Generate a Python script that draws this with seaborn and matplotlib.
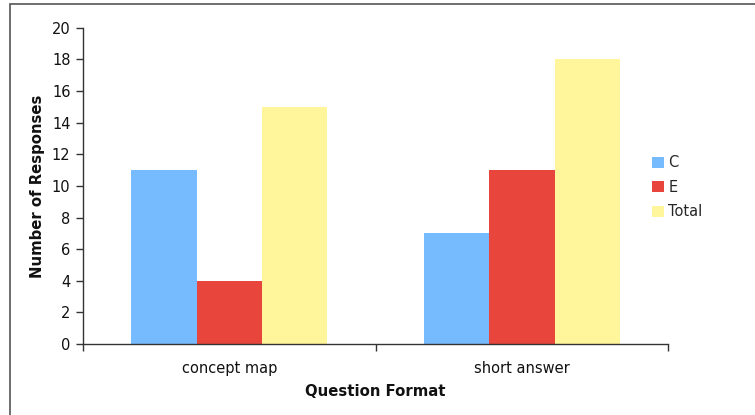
import matplotlib
matplotlib.use("Agg")
import matplotlib.pyplot as plt
import seaborn as sns
import pandas as pd
from matplotlib.patches import Rectangle

categories = ["concept map", "short answer"]
series = ["C", "E", "Total"]
values_C = [11, 7]
values_E = [4, 11]
values_Total = [15, 18]
colors = ["#77BBFF", "#E8453C", "#FFF59A"]

rows = []
for s, vals in zip(series, [values_C, values_E, values_Total]):
    for c, v in zip(categories, vals):
        rows.append({"Question Format": c, "Series": s, "Responses": v})
df = pd.DataFrame(rows)

sns.set_theme(style="white")
plt.rcParams["font.family"] = ["DejaVu Sans"]

fig = plt.figure(figsize=(7.55, 4.15), dpi=100)
ax = fig.add_axes([0.110, 0.171, 0.775, 0.762])

sns.barplot(data=df, x="Question Format", y="Responses", hue="Series",
            order=categories, hue_order=series, palette=colors,
            width=0.67, gap=0, saturation=1, ax=ax, edgecolor="none",
            linewidth=0)

ax.set_ylim(0, 20)
ax.set_yticks(range(0, 21, 2))
ax.set_xlim(-0.5, 1.5)
ax.set_xticks([-0.5, 0.5, 1.5])
ax.set_xticklabels([])
ax.set_xticks([0, 1], minor=True)
ax.set_xticklabels(categories, minor=True)
ax.tick_params(axis="x", which="major", bottom=True, direction="out", length=5, width=1, color="#333333")
ax.tick_params(axis="x", which="minor", bottom=False, length=0, pad=12, labelsize=10.5, labelcolor="#111111")
ax.tick_params(axis="y", left=True, direction="out", length=5, width=1, color="#333333", labelsize=10.5, labelcolor="#111111", pad=4)

for sp in ["top", "right"]:
    ax.spines[sp].set_visible(False)
for sp in ["left", "bottom"]:
    ax.spines[sp].set_color("#333333")
    ax.spines[sp].set_linewidth(1)

ax.set_xlabel("Question Format", fontsize=10.7, fontweight="bold", labelpad=6, color="#111111")
ax.set_ylabel("Number of Responses", fontsize=10.7, fontweight="bold", labelpad=5, color="#111111")

leg = ax.legend(loc="upper left", bbox_to_anchor=(648/755, 1 - 151/415),
                bbox_transform=fig.transFigure, frameon=False,
                fontsize=10.5, handlelength=0.8, handleheight=0.8, handletextpad=0.3,
                labelspacing=0.65, borderaxespad=0, borderpad=0.3)

fig.patches.append(Rectangle((10/755, -0.1), 1.2, 1 - 4/415 + 0.1, transform=fig.transFigure,
                             fill=False, edgecolor="#555555", linewidth=1.2, zorder=0))

fig.savefig("out.png", dpi=100)
